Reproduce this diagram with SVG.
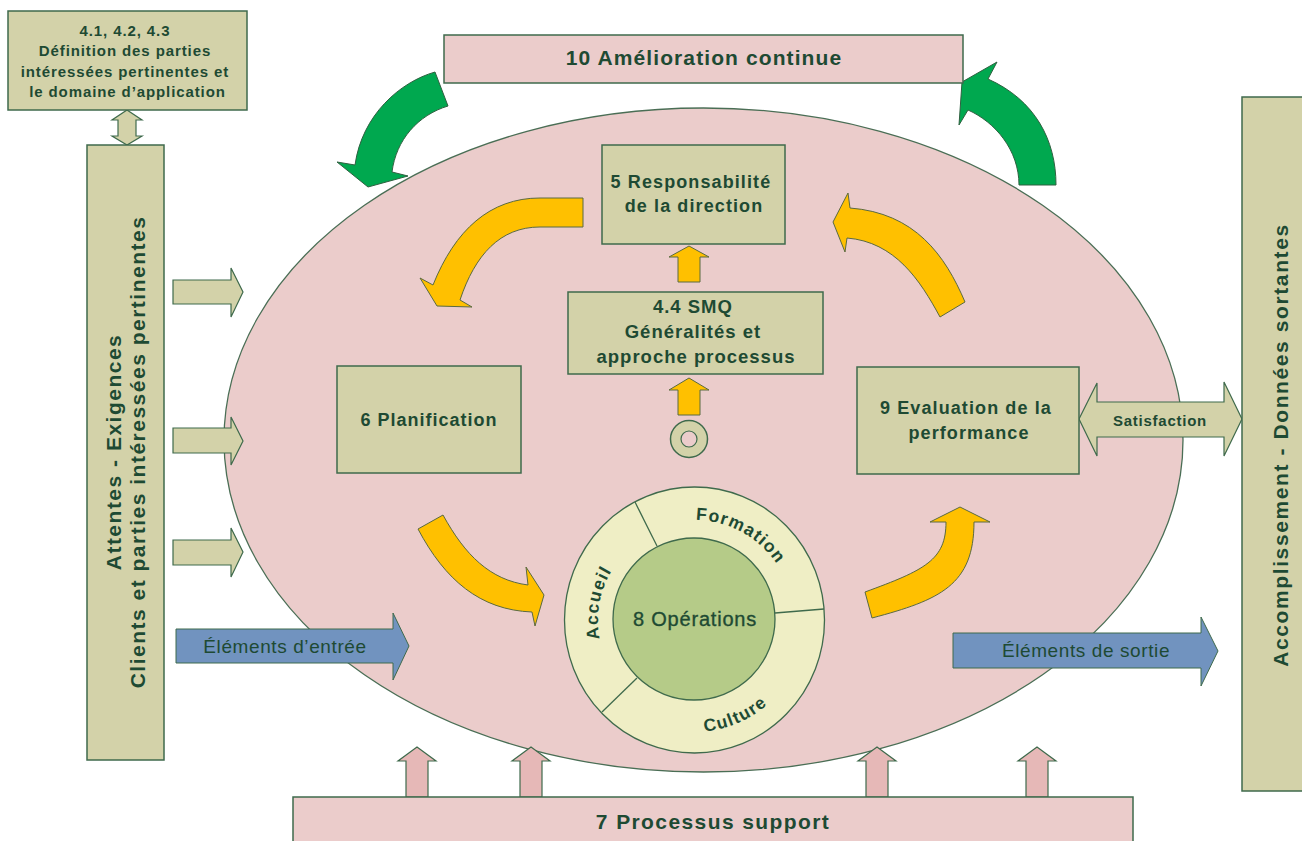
<svg xmlns="http://www.w3.org/2000/svg" width="1302" height="841" viewBox="0 0 1302 841">
<style>
.kh{fill:#d3d2a9;stroke:#3f6a4c;stroke-width:1.5}
.pk{fill:#ebcccb;stroke:#3f6a4c;stroke-width:1.5}
.el{fill:#ebcccb;stroke:#4a6e55;stroke-width:1.3}
.gr{fill:#00a84f;stroke:#2f6040;stroke-width:1}
.ye{fill:#ffc000;stroke:#5a6a40;stroke-width:1}
.bl{fill:#7193bf;stroke:#3f6a4c;stroke-width:1}
.pa{fill:#e6b8b7;stroke:#3f6a4c;stroke-width:1.2}
.ka{fill:#d3d2a9;stroke:#3f6a4c;stroke-width:1.2}
.t{font-family:"Liberation Sans",Arial,sans-serif;fill:#1e4a33;text-anchor:middle}
.b{font-weight:bold}
</style>
<defs>
<path id="arcF" d="M642.05 534.55 A100 100 0 0 1 793.97 617.73"/>
<path id="arcA" d="M632.29 693.54 A96 96 0 0 1 661.17 529.79"/>
<path id="arcC" d="M627.23 709.91 A112 112 0 0 0 805.26 632.87"/>
</defs>
<rect width="1302" height="841" fill="#ffffff"/>

<g id="perimetre">
<ellipse class="el" cx="703.5" cy="440" rx="479.5" ry="332"/>
</g>

<g id="connectors">
<!-- green arrows -->
<path class="gr" d="M435,72 C400,82 362,115 355,165 L337,162 L368,187 L408,176 L392,172 C396,140 418,115 448,106 Z"/>
<path class="gr" d="M1019,185 H1056 C1056,140 1035,100 988,79 L997,62 L962,82 L959,125 L968,110 C995,122 1019,150 1019,185 Z"/>
<!-- yellow curved arrows -->
<path class="ye" d="M583,198 L540,198 C490,198 455,230 433,285 L420,278 L437,306 L472,307 L460,300 C475,255 500,227 540,227 L583,227 Z"/>
<path class="ye" d="M940,317 L965,302 C945,255 915,213 850,208 L848,193 L833,222 L845,252 L847,238 C895,242 920,280 940,317 Z"/>
<path class="ye" d="M418,529 L443,515 C465,555 490,580 528,585 L526,567 L544,595 L535,626 L532,612 C480,610 445,580 418,529 Z"/>
<path class="ye" d="M865,592 L872,618 C940,600 974,585 974,522 L990,522 L960,507 L930,522 L946,522 C946,560 925,570 865,592 Z"/>
<!-- small yellow up arrows -->
<path class="ye" d="M678,282 V257 H669 L689,246 L709,257 H700 V282 Z"/>
<path class="ye" d="M678,415 V390 H669 L689,378 L709,390 H700 V415 Z"/>
<!-- khaki input arrows -->
<path class="ka" d="M173,280 H231 V268 L243,292 L231,317 V304 H173 Z"/>
<path class="ka" d="M173,428 H231 V417 L243,441 L231,465 V453 H173 Z"/>
<path class="ka" d="M173,540 H231 V528 L243,552 L231,577 V565 H173 Z"/>
<!-- double arrow top-left -->
<path class="ka" d="M127,110 L142,120 L136,120 L136,136 L142,136 L127,145 L112,136 L118,136 L118,120 L112,120 Z"/>
<!-- blue arrows -->
<path class="bl" d="M176,629 H393 V613 L409,646 L393,680 V663 H176 Z"/>
<path class="bl" d="M953,633 H1201 V617 L1218,651 L1201,686 V668 H953 Z"/>
<!-- satisfaction double arrow -->
<path class="ka" d="M1079,419 L1097,383 V402 H1224 V382 L1242,419 L1224,456 V437 H1097 V456 Z"/>
<!-- pink support arrows -->
<path class="pa" d="M406,797 V761 H398 L417,747 L436,761 H428 V797 Z"/>
<path class="pa" d="M520,797 V761 H512 L531,747 L550,761 H542 V797 Z"/>
<path class="pa" d="M866,797 V761 H858 L877,747 L896,761 H888 V797 Z"/>
<path class="pa" d="M1026,797 V761 H1018 L1037,747 L1056,761 H1048 V797 Z"/>
</g>

<g id="perimetre-texte">
<text class="t" x="285" y="653" font-size="19" letter-spacing="0.6">Éléments d’entrée</text>
<text class="t" x="1086" y="657" font-size="19" letter-spacing="0.6">Éléments de sortie</text>
<text class="t b" x="1160" y="426" font-size="15" letter-spacing="0.75">Satisfaction</text>
</g>

<g id="definition">
<rect class="kh" x="8" y="11" width="239" height="99"/>
<text class="t b" font-size="15" letter-spacing="0.9">
<tspan x="127.5" y="36">4.1, 4.2, 4.3</tspan>
<tspan x="127.5" y="56">Définition des parties</tspan>
<tspan x="127.5" y="77">intéressées pertinentes et</tspan>
<tspan x="127.5" y="97">le domaine d’application</tspan>
</text>
</g>

<g id="attentes">
<rect class="kh" x="87" y="145" width="77" height="615"/>
<text class="t b" font-size="21" letter-spacing="1.5" transform="translate(121,452) rotate(-90)">Attentes - Exigences</text>
<text class="t b" font-size="21" letter-spacing="1.5" transform="translate(145,452) rotate(-90)">Clients et parties intéressées pertinentes</text>
</g>

<g id="amelioration">
<rect class="pk" x="444" y="35" width="519" height="48"/>
<text class="t b" x="704" y="65" font-size="21" letter-spacing="1.1">10 Amélioration continue</text>
</g>

<g id="accomplissement">
<rect class="kh" x="1242" y="97" width="70" height="694"/>
<text class="t b" font-size="21" letter-spacing="1.6" transform="translate(1288,445) rotate(-90)">Accomplissement - Données sortantes</text>
</g>

<g id="responsabilite">
<rect class="kh" x="602" y="145" width="183" height="99"/>
<text class="t b" font-size="18" letter-spacing="1.1">
<tspan x="694" y="188">5 Responsabilité</tspan>
<tspan x="694" y="212">de la direction</tspan>
</text>
</g>

<g id="smq">
<rect class="kh" x="568" y="292" width="255" height="82"/>
<text class="t b" font-size="18.5" letter-spacing="1">
<tspan x="696" y="313">4.4 SMQ</tspan>
<tspan x="696" y="338">Généralités et</tspan>
<tspan x="696" y="363">approche processus</tspan>
</text>
</g>

<g id="origine">
<circle class="kh" cx="689" cy="439" r="18.5" stroke-width="1.2"/>
<circle cx="689" cy="439" r="8" fill="#ebcccb" stroke="#3f6a4c" stroke-width="1.2"/>
</g>

<g id="planification">
<rect class="kh" x="337" y="366" width="184" height="107"/>
<text class="t b" x="429" y="426" font-size="18" letter-spacing="1">6 Planification</text>
</g>

<g id="evaluation">
<rect class="kh" x="857" y="367" width="222" height="107"/>
<text class="t b" font-size="18" letter-spacing="1.1">
<tspan x="969" y="414">9 Evaluation de la</tspan>
<tspan x="969" y="439">performance</tspan>
</text>
</g>

<g id="operations">
<ellipse cx="694.5" cy="620" rx="130" ry="133" fill="#efeec5" stroke="#3f6a4c" stroke-width="1.3"/>
<line x1="635" y1="502" x2="657" y2="546" stroke="#3f6a4c" stroke-width="1.3"/>
<line x1="775" y1="613" x2="824" y2="609" stroke="#3f6a4c" stroke-width="1.3"/>
<line x1="637" y1="678" x2="602" y2="712" stroke="#3f6a4c" stroke-width="1.3"/>
<circle cx="694" cy="619" r="81" fill="#b5cb88" stroke="#3f6a4c" stroke-width="1.3"/>
<text class="t" x="695" y="626" font-size="20" letter-spacing="0.8" stroke="#1e4a33" stroke-width="0.35">8 Opérations</text>
<text class="t b" font-size="17.5" letter-spacing="1.2"><textPath href="#arcF" startOffset="50%">Formation</textPath></text>
<text class="t b" font-size="17.5" letter-spacing="1.3"><textPath href="#arcA" startOffset="50%">Accueil</textPath></text>
<text class="t b" font-size="17.5" letter-spacing="1.3"><textPath href="#arcC" startOffset="50%">Culture</textPath></text>
</g>

<g id="support">
<rect class="pk" x="293" y="797" width="840" height="60"/>
<text class="t b" x="713" y="829" font-size="21" letter-spacing="1.4">7 Processus support</text>
</g>
</svg>
